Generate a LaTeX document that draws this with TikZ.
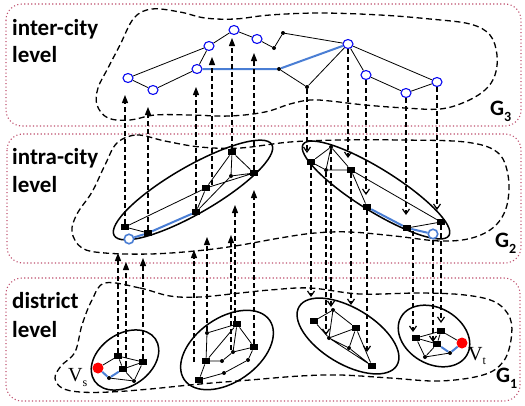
\documentclass[tikz,border=0pt]{standalone}
\usepackage{fontspec}
\setmainfont{Carlito}
\newfontfamily\serifV{Liberation Serif}
\usetikzlibrary{arrows.meta,shapes.geometric,calc}
\definecolor{lvlc}{RGB}{190,80,110}
\definecolor{lblue}{RGB}{74,126,212}
\definecolor{nblue}{RGB}{10,10,240}
\begin{document}
\begin{tikzpicture}[x=1pt,y=-1pt,
 lvl/.style={draw=lvlc, line width=1.1pt, dash pattern=on 1.1pt off 2.4pt, rounded corners=16pt},
 blob/.style={draw=black, line width=1.3pt, dash pattern=on 6pt off 3.5pt},
 ell/.style={draw=black, line width=1.5pt},
 bc/.style={ellipse, draw=nblue, line width=1.1pt, fill=white, minimum width=10pt, minimum height=9pt, inner sep=0pt},
 lbc/.style={circle, draw=lblue, line width=1.6pt, fill=white, minimum size=9.5pt, inner sep=0pt},
 sq/.style={rectangle, fill=black, minimum width=8pt, minimum height=6.5pt, inner sep=0pt},
 dt/.style={circle, fill=black, minimum size=4pt, inner sep=0pt},
 rd/.style={circle, fill=red, minimum size=11pt, inner sep=0pt},
 ed/.style={draw=black, line width=0.8pt},
 be/.style={draw=lblue, line width=2pt},
 up/.style={draw=black, line width=1.2pt, dash pattern=on 5pt off 3pt, -{Triangle[length=8pt,width=6pt]}},
 dn/.style={draw=black, line width=1.2pt, dash pattern=on 5pt off 3pt, -{Straight Barb[length=5pt,width=7pt]}},
 lab/.style={font=\fontsize{23}{27}\selectfont\bfseries, anchor=base west, inner sep=0pt},
 glab/.style={font=\fontsize{22}{22}\selectfont\bfseries, anchor=base west, inner sep=0pt},
 vlab/.style={font=\serifV\fontsize{20}{20}\selectfont, anchor=base west, inner sep=0pt},
]
\useasboundingbox (0,0) rectangle (525,405);
% level frames
\draw[lvl] (6,4) rectangle (521,126);
\draw[lvl] (7,134) rectangle (521,263);
\draw[lvl] (6,278) rectangle (520,401);
% labels
\node[lab] (l1a) at (12,35) {inter-city};
\node[lab] (l1b) at (12,62) {level};
\node[lab] (l2a) at (12,164) {intra-city};
\node[lab] (l2b) at (12,192) {level};
\node[lab] (l3a) at (12,308) {district};
\node[lab] (l3b) at (12,337) {level};
\node[glab] (g3) at (490,115) {G\raisebox{-6pt}{\fontsize{14}{14}\selectfont 3}};
\node[glab] (g2) at (495,247) {G\raisebox{-6pt}{\fontsize{14}{14}\selectfont 2}};
\node[glab] (g1) at (496,382) {G\raisebox{-6pt}{\fontsize{14}{14}\selectfont 1}};
% blobs
\draw[blob] plot[smooth cycle, tension=0.6] coordinates {(134,18) (152,9) (180,12) (205,18) (235,19) (270,15) (320,13) (380,15) (430,19) (470,24) (490,35) (497,55) (495,75) (485,90) (465,102) (440,109) (405,108) (365,105) (330,101) (310,100) (290,104) (265,112) (230,116) (190,115) (155,115) (130,120) (108,118) (97,105) (98,88) (108,68) (120,45)};
\draw[blob] plot[smooth cycle, tension=0.6] coordinates {(117,143) (137,135) (165,141) (200,147) (240,148) (290,142) (340,140) (400,140) (465,142) (497,152) (508,175) (507,205) (495,226) (472,238) (440,241) (395,236) (350,232) (315,233) (280,238) (235,246) (195,251) (150,254) (105,253) (82,248) (72,232) (77,214) (92,192) (105,165)};
\draw[blob] plot[smooth cycle, tension=0.6] coordinates {(105,283) (140,288) (170,296) (200,297) (240,293) (270,290) (310,288) (360,294) (420,293) (465,295) (495,302) (510,318) (511,340) (503,362) (483,375) (440,381) (390,378) (340,375) (300,376) (250,380) (200,384) (150,389) (110,392) (80,392) (62,388) (55,378) (61,366) (75,352) (82,325) (92,300)};
% ellipses
\draw[ell, rotate around={30:(193,190)}] (193,190) ellipse [x radius=91pt, y radius=23.5pt];
\draw[ell, rotate around={-32:(376,190)}] (376,190) ellipse [x radius=86pt, y radius=21pt];
\draw[ell, rotate around={35:(125,360)}] (125,360) ellipse [x radius=37pt, y radius=26pt];
\draw[ell, rotate around={35:(227,350)}] (227,350) ellipse [x radius=52pt, y radius=32pt];
\draw[ell, rotate around={-31:(348,336)}] (348,336) ellipse [x radius=57pt, y radius=28pt];
\draw[ell, rotate around={-30:(434,336)}] (434,336) ellipse [x radius=38pt, y radius=28pt];
% top nodes
\node[bc] (a1) at (128,78) {};
\node[bc] (a2) at (153,90) {};
\node[bc] (a3) at (197,69) {};
\node[bc] (a4) at (209,46) {};
\node[bc] (a5) at (234,30) {};
\node[bc] (a6) at (257,39) {};
\node[dt] (b1) at (274,48) {};
\node[dt] (b2) at (283,33) {};
\node[dt] (b3) at (279,69) {};
\node[dt] (b4) at (307,87) {};
\node[bc] (a7) at (348,44) {};
\node[bc] (a8) at (366,75) {};
\node[bc] (a9) at (406,93) {};
\node[bc] (a10) at (437,82) {};
% middle-left
\node[sq] (m1) at (125,227) {};
\node[lbc] (m2) at (129,239) {};
\node[sq] (m3) at (148,233) {};
\node[sq] (m4) at (196,212) {};
\node[sq] (m5) at (206,188) {};
\node[dt] (m6) at (231,176) {};
\node[sq] (m7) at (232,152) {};
\node[sq] (m8) at (254,173) {};
% middle-right
\node[sq] (r1) at (311,162) {};
\node[dt] (r2) at (331,147) {};
\node[dt] (r3) at (326,170) {};
\node[sq] (r4) at (351,170) {};
\node[sq] (r5) at (367,207) {};
\node[sq] (r6) at (407,228) {};
\node[lbc] (r7) at (433,234) {};
\node[sq] (r8) at (441,222) {};
% bottom 1
\node[rd] (Vs) at (98,368) {};
\node[sq] (s1) at (118,356) {};
\node[sq] (s2) at (123,369) {};
\node[sq] (s3) at (143,362) {};
\node[dt] (d1) at (109,378) {};
\node[dt] (d2) at (134,381) {};
% bottom 2
\node[dt] (t1) at (207,333) {};
\node[sq] (t2) at (237,324) {};
\node[sq] (t3) at (254,347) {};
\node[dt] (t4) at (233,352) {};
\node[sq] (t5) at (206,361) {};
\node[dt] (t6) at (222,361) {};
\node[dt] (t7) at (248,360) {};
\node[dt] (t8) at (224,373) {};
\node[sq] (t9) at (199,380) {};
% bottom 3
\node[sq] (u1) at (314,321) {};
\node[dt] (u2) at (333,310) {};
\node[sq] (u3) at (356,328) {};
\node[dt] (u4) at (329,338) {};
\node[dt] (u5) at (349,348) {};
\node[sq] (u6) at (372,366) {};
% bottom 4
\node[sq] (v1) at (416,338) {};
\node[sq] (v2) at (441,331) {};
\node[sq] (v3) at (437,344) {};
\node[rd] (Vt) at (462,343) {};
\node[dt] (v4) at (425,357) {};
\node[dt] (v5) at (450,353) {};
\node[vlab] (vsl) at (68,381) {V\raisebox{-5pt}{\fontsize{12}{12}\selectfont s}};
\node[vlab] (vtl) at (468,360) {V\raisebox{-4pt}{\fontsize{12}{12}\selectfont t}};
% edges
\draw[ed] (a1)--(a2) (a2)--(a3) (a1)--(a4) (a3)--(a4) (a4)--(a5) (a5)--(a6) (a6)--(b1) (b1)--(b2) (b2)--(a7) (b3)--(b4) (b4)--(a7) (a7)--(a8) (a8)--(a9) (a9)--(a10) (a7)--(a10);
\draw[be] (a3)--(b3) (b3)--(a7);
\draw[ed] (m1)--(m3) (m1)--(m5) (m4)--(m5) (m4)--(m6) (m5)--(m8) (m6)--(m8) (m5)--(m7) (m6)--(m7) (m7)--(m8);
\draw[be] (m2)--(m3) (m3)--(m4);
\draw[ed] (r1)--(r2) (r1)--(r3) (r2)--(r3) (r2)--(r4) (r3)--(r4) (r4)--(r5) (r4)--(r8) (r6)--(r8);
\draw[be] (r5)--(r6) (r6)--(r7);
\draw[ed] (Vs)--(s1) (s1)--(s3) (s1)--(s2) (s2)--(s3) (s3)--(d2) (s2)--(d2) (d1)--(d2);
\draw[be] (Vs)--(d1) (d1)--(s2);
\draw[ed] (t1)--(t2) (t1)--(t5) (t5)--(t2) (t2)--(t4) (t2)--(t3) (t3)--(t4) (t5)--(t6) (t6)--(t4) (t3)--(t7) (t7)--(t8) (t8)--(t9) (t9)--(t5);
\draw[ed] (u1)--(u2) (u1)--(u4) (u2)--(u4) (u2)--(u3) (u4)--(u3) (u3)--(u5) (u3)--(u6) (u4)--(u5) (u4)--(u6) (u5)--(u6);
\draw[ed] (v1)--(v2) (v1)--(v3) (v2)--(v3) (v2)--(Vt) (v1)--(v4) (v4)--(v5) (v4)--(v3);
\draw[be] (v3)--(v5) (v5)--(Vt);
% arrows middle -> top
\draw[up] (m1) -- (m1 |- 0,95);
\draw[up] (m3) -- (m3 |- 0,107);
\draw[up] (m4) -- (m4 |- 0,87);
\draw[up] ([xshift=6pt]m5.north) -- ([xshift=6pt]m5.north |- 0,57);
\draw[up] (m7) -- (m7 |- 0,38);
\draw[up] (m8) -- (m8 |- 0,53);
% arrows top -> middle
\draw[dn] (b4) -- (b4 |- 0,153);
\draw[dn] (a7) -- (a7 |- 0,158);
\draw[dn] (a8) -- (a8 |- 0,195);
\draw[dn] (a9) -- (a9 |- 0,215);
\draw[dn] (a10) -- (a10 |- 0,210);
% arrows bottom -> middle
\coordinate (c1) at (194,362);
\draw[up] (s1) -- (s1 |- 0,253);
\draw[up] ([xshift=3pt]s2.north) -- ([xshift=3pt]s2.north |- 0,262);
\draw[up] (s3) -- (s3 |- 0,258);
\draw[up] (c1) -- (c1 |- 0,250);
\draw[up] (t1) -- (t1 |- 0,237);
\draw[up] ([xshift=-2pt]t4.north) -- ([xshift=-2pt]t4.north |- 0,235);
\draw[up] ([xshift=-2pt]t2.north) -- ([xshift=-2pt]t2.north |- 0,205);
\draw[up] (t3) -- (t3 |- 0,190);
% arrows middle -> bottom
\draw[dn] (r1) -- (r1 |- 0,297);
\draw[dn] (r3) -- (r3 |- 0,335);
\draw[dn] (r2) -- (r2 |- 0,307);
\draw[dn] (r4) -- (r4 |- 0,305);
\draw[dn] (r5) -- (r5 |- 0,352);
\draw[dn] ([xshift=6pt]r6.south) -- ([xshift=6pt]r6.south |- 0,332);
\draw[dn] (r7) -- (r7 |- 0,342);
\draw[dn] (r8) -- (r8 |- 0,323);
\end{tikzpicture}
\end{document}
